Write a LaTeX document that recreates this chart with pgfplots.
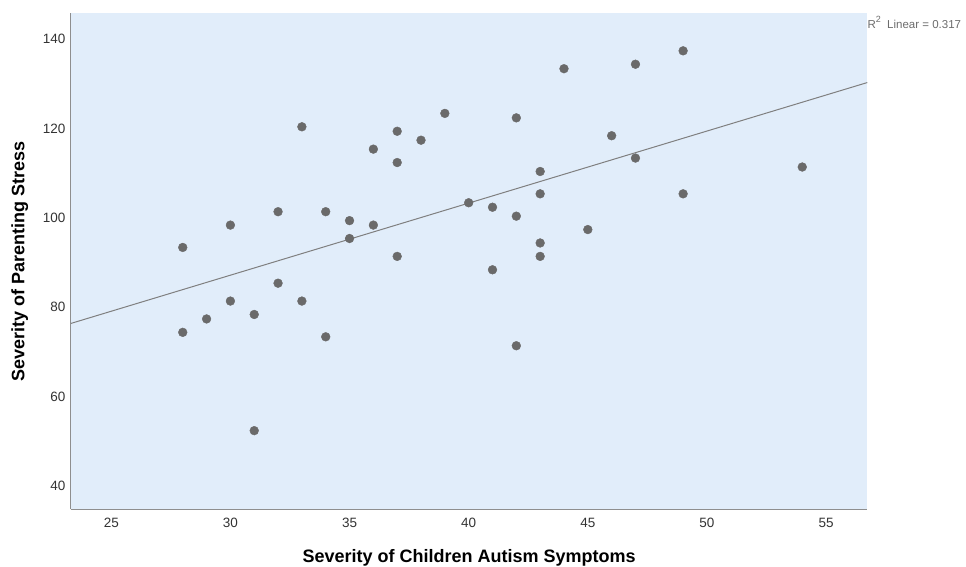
\documentclass[border=0pt]{standalone}
\usepackage{fontspec}
\setmainfont{Liberation Sans}
\usepackage{pgfplots}
\pgfplotsset{compat=1.18}
\definecolor{bgblue}{HTML}{E1EDFA}
\definecolor{ptgray}{HTML}{6A6A6A}
\definecolor{linegray}{HTML}{7F7F7F}
\definecolor{axgray}{HTML}{8E8E8E}
\definecolor{txt}{HTML}{333333}
\begin{document}
\begin{tikzpicture}
\useasboundingbox (-71pt,-57.7pt) rectangle (895pt,509.3pt);
\begin{axis}[
  scale only axis,
  width=796.3pt, height=496pt,
  xmin=23.31, xmax=56.73,
  ymin=34.4, ymax=145.4,
  xtick={25,30,...,55},
  ytick={40,60,...,140},
  axis lines=left,
  axis line style={-, draw=axgray, line width=1pt},
  axis background/.style={fill=bgblue},
  major tick length=0pt,
  /pgf/number format/assume math mode=true,
  tick label style={font=\fontsize{13.5}{16}\selectfont, text=txt},
  xticklabel style={inner sep=0pt, anchor=north, yshift=-8.7pt},
  yticklabel style={inner sep=0pt, anchor=east, xshift=-5.3pt, yshift=-1.8pt},
  xlabel={Severity of Children Autism Symptoms},
  ylabel={Severity of Parenting Stress},
  label style={font=\fontsize{18}{21}\selectfont\bfseries, text=black},
  xlabel style={at={(axis description cs:0.5,-0.080)}, anchor=north, inner sep=0pt},
  ylabel style={at={(axis description cs:-0.0536,0.5)}, anchor=south, inner sep=0pt},
  clip mode=individual,
]
\addplot[linegray, line width=1pt] coordinates {(23.31,76.0) (56.73,129.9)};
\addplot[only marks, mark=*, mark size=4.4pt, mark options={fill=ptgray, draw=ptgray}] coordinates {
(28,93) (28,74) (29,77) (30,98) (30,81) (31,78) (31,52) (32,101) (32,85)
(33,120) (33,81) (34,101) (34,73) (35,99) (35,95) (36,115) (36,98)
(37,119) (37,112) (37,91) (38,117) (39,123) (40,103) (41,102) (41,88)
(42,122) (42,100) (42,71) (43,110) (43,105) (43,94) (43,91) (44,133)
(45,97) (46,118) (47,134) (47,113) (49,137) (49,105) (54,111)
};
\node[anchor=base west, inner sep=0pt, text=gray!85!black, font=\fontsize{11.5}{13}\selectfont] at (axis description cs:1,0.970) {R\raisebox{0.45em}{\fontsize{9}{9}\selectfont 2}\ \ Linear = 0.317};
\end{axis}
\end{tikzpicture}
\end{document}
